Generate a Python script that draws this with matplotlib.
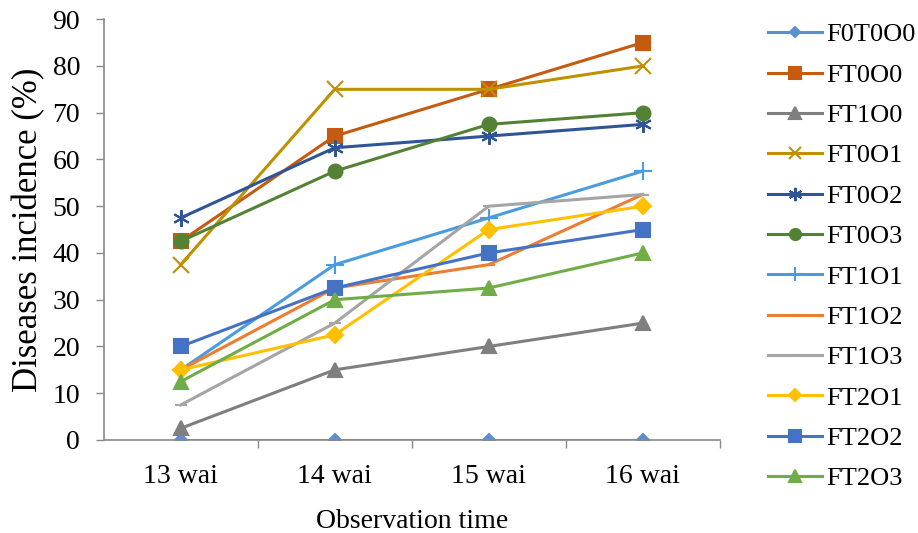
import matplotlib.pyplot as plt
import numpy as np

plt.rcParams['font.family'] = ['Liberation Serif', 'DejaVu Serif']

# Observation times
times = ['13 wai', '14 wai', '15 wai', '16 wai']

# Disease incidence (%) per treatment
F0T0O0 = [0, 0, 0, 0]
FT0O0 = [42.5, 65, 75, 85]
FT1O0 = [2.5, 15, 20, 25]
FT0O1 = [37.5, 75, 75, 80]
FT0O2 = [47.5, 62.5, 65, 67.5]
FT0O3 = [42.5, 57.5, 67.5, 70]
FT1O1 = [15, 37.5, 47.5, 57.5]
FT1O2 = [15, 32.5, 37.5, 52.5]
FT1O3 = [7.5, 25, 50, 52.5]
FT2O1 = [15, 22.5, 45, 50]
FT2O2 = [20, 32.5, 40, 45]
FT2O3 = [12.5, 30, 32.5, 40]

series = [
    ('F0T0O0', F0T0O0, '#5B8FD0', 'D', 6),
    ('FT0O0', FT0O0, '#C55A11', 's', 10),
    ('FT1O0', FT1O0, '#7F7F7F', '^', 10),
    ('FT0O1', FT0O1, '#BF9000', 'x', 11),
    ('FT0O2', FT0O2, '#2F5597', (6, 2, 0), 12),
    ('FT0O3', FT0O3, '#548235', 'o', 10),
    ('FT1O1', FT1O1, '#4A9BE0', '+', 13),
    ('FT1O2', FT1O2, '#ED7D31', '_', 8),
    ('FT1O3', FT1O3, '#A5A5A5', '_', 8),
    ('FT2O1', FT2O1, '#FFC000', 'D', 8),
    ('FT2O2', FT2O2, '#4472C4', 's', 10),
    ('FT2O3', FT2O3, '#70AD47', '^', 10),
]

fig = plt.figure(figsize=(9.18, 5.33), dpi=100)
ax = fig.add_axes([0.113, 0.1745, 0.671, 0.7895])

x = np.arange(len(times))
for name, vals, color, marker, ms in series:
    ax.plot(x, vals, color=color, lw=2.2, marker=marker, markersize=ms,
            markeredgewidth=1.5, label=name)

ax.set_xlim(-0.5, len(times) - 0.5)
ax.set_ylim(0, 90)
ax.set_yticks(np.arange(0, 91, 10))
ax.set_xticks(x)
ax.set_xticklabels(times)
ax.set_xticks(np.arange(0.5, len(times), 1), minor=True)
ax.tick_params(axis='x', which='major', length=0, labelsize=20, pad=17)
ax.tick_params(axis='x', which='minor', length=6, color='#898989', width=1)
ax.tick_params(axis='y', length=6, color='#898989', width=1, labelsize=20, pad=11)

for side in ['top', 'right']:
    ax.spines[side].set_visible(False)
for side in ['left', 'bottom']:
    ax.spines[side].set_color('#898989')
    ax.spines[side].set_linewidth(1.2)

ax.set_xlabel('Observation time', fontsize=20, labelpad=15)
ax.set_ylabel('Diseases incidence (%)', fontsize=25, labelpad=5)

fig.legend(loc='upper left', bbox_to_anchor=(0.8366, 0.957), frameon=False,
           fontsize=19, handlelength=2.05, handletextpad=0.15, labelspacing=0.64,
           borderpad=0, borderaxespad=0, markerscale=0.8)

fig.savefig('out.png', dpi=100)
